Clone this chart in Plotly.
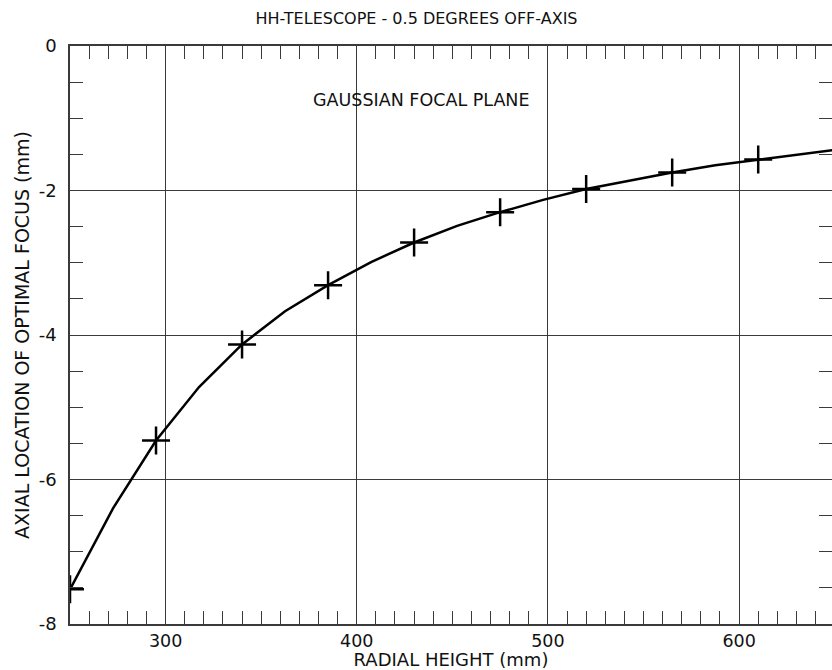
import plotly.graph_objects as go

# Computed curve (radial height in mm, axial focus location in mm)
curve_x = [250, 272.5, 295, 317.5, 340, 362.5, 385, 407.5, 430, 452.5, 475,
           497.5, 520, 542.5, 565, 587.5, 610, 632.5, 655]
curve_y = [-7.52, -6.40, -5.46, -4.72, -4.13, -3.67, -3.31, -2.99, -2.72, -2.49,
           -2.30, -2.13, -1.98, -1.86, -1.75, -1.65, -1.57, -1.49, -1.42]

# Marked sample points
mark_x = [250, 295, 340, 385, 430, 475, 520, 565, 610]
mark_y = [-7.52, -5.46, -4.13, -3.31, -2.72, -2.30, -1.98, -1.75, -1.57]

# Tick labels
y_tick_vals = [0, -2, -4, -6, -8]
y_tick_text = ["0", "-2", "-4", "-6", "-8"]
x_tick_vals = [300, 400, 500, 600]
x_tick_text = ["300", "400", "500", "600"]

title_text = "HH-TELESCOPE - 0.5 DEGREES OFF-AXIS"
x_title = "RADIAL HEIGHT (mm)"
y_title = "AXIAL LOCATION OF OPTIMAL FOCUS (mm)"
note_text = "GAUSSIAN FOCAL PLANE"

FONT = "DejaVu Sans"
AX = "#3a3a3a"

fig = go.Figure()
fig.add_trace(go.Scatter(x=curve_x, y=curve_y, mode="lines",
                         line=dict(color="black", width=2.5),
                         showlegend=False, hoverinfo="skip", cliponaxis=True))
fig.add_trace(go.Scatter(x=mark_x, y=mark_y, mode="markers",
                         marker=dict(symbol="cross-thin-open", size=20, color="black",
                                     line=dict(color="black", width=2.5)),
                         showlegend=False, cliponaxis=True))
# right-side tick carrier
fig.add_trace(go.Scatter(x=mark_x, y=mark_y, mode="markers", yaxis="y2",
                         marker=dict(opacity=0), showlegend=False, hoverinfo="skip"))

fig.add_annotation(x=434, y=-0.75, text=note_text, showarrow=False,
                   font=dict(family=FONT, size=17.5, color="#111"))

fig.update_layout(
    width=832, height=670,
    margin=dict(l=70, r=0, t=46, b=46),
    paper_bgcolor="white", plot_bgcolor="white",
    font=dict(family=FONT, color="#111"),
    title=dict(text=title_text, x=(253 + 580) / 2 / 832, xanchor="center",
               y=1 - 18 / 670, yanchor="middle",
               font=dict(family=FONT, size=16, color="#111")),
    xaxis=dict(range=[250, 648.6], tickvals=x_tick_vals, ticktext=x_tick_text,
               showgrid=True, gridcolor=AX, gridwidth=1.3,
               showline=True, linecolor=AX, linewidth=1.5, mirror="ticks",
               ticks="inside", ticklen=13, tickwidth=1.3, tickcolor=AX,
               minor=dict(dtick=10, tick0=0, ticks="inside", ticklen=13,
                          tickwidth=1.3, tickcolor=AX, showgrid=False),
               zeroline=False, ticklabelstandoff=0,
               tickfont=dict(family=FONT, size=17.5, color="#111"),
               title=dict(text=x_title, standoff=0,
                          font=dict(family=FONT, size=18, color="#111"))),
    yaxis=dict(range=[-8, 0], tickvals=y_tick_vals, ticktext=y_tick_text,
               showgrid=True, gridcolor=AX, gridwidth=1.3,
               showline=True, linecolor=AX, linewidth=1.5, mirror=False,
               ticks="inside", ticklen=13, tickwidth=1.3, tickcolor=AX,
               minor=dict(dtick=0.5, tick0=0, ticks="inside", ticklen=13,
                          tickwidth=1.3, tickcolor=AX, showgrid=False),
               zeroline=False, ticklabelstandoff=8,
               tickfont=dict(family=FONT, size=18, color="#111"),
               title=dict(text=y_title, standoff=4,
                          font=dict(family=FONT, size=19, color="#111"))),
    yaxis2=dict(overlaying="y", side="right", matches="y", range=[-8, 0],
                showgrid=False, showline=False, zeroline=False,
                showticklabels=False, dtick=0.5, tick0=0,
                ticks="inside", ticklen=13, tickwidth=1.3, tickcolor=AX),
)

fig.write_html("out.html")
